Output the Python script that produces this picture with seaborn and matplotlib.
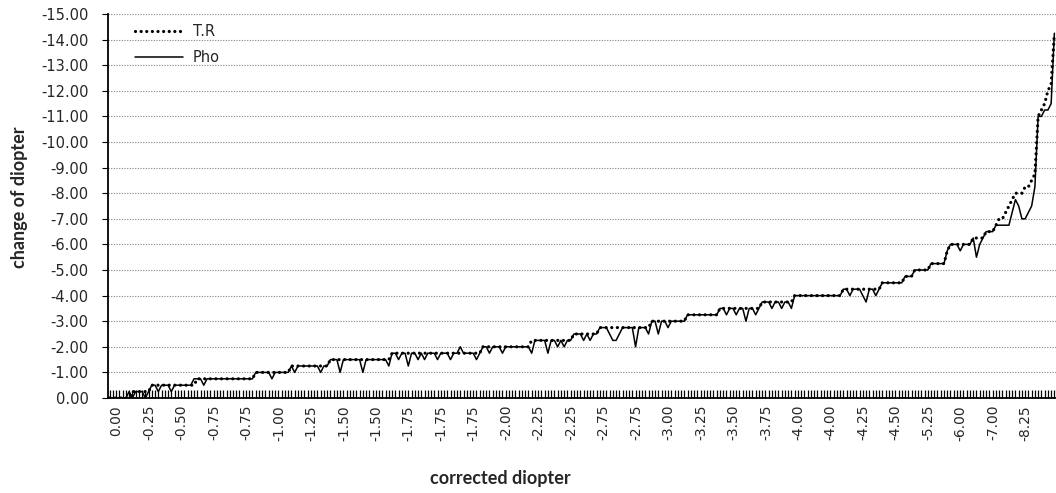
import numpy as np
import pandas as pd
import matplotlib
matplotlib.use("Agg")
import matplotlib.pyplot as plt
import seaborn as sns

# corrected diopter (categories on the x axis, sorted)
corrected = [
    0.00, 0.00, 0.00, 0.00, 0.00, 0.00, 0.00, 0.00, 0.00, -0.25,
    -0.25, -0.25, -0.25, -0.25, -0.25, -0.50, -0.50, -0.50, -0.50, -0.50,
    -0.50, -0.50, -0.50, -0.50, -0.50, -0.50, -0.50, -0.75, -0.75, -0.75,
    -0.75, -0.75, -0.75, -0.75, -0.75, -0.75, -0.75, -0.75, -0.75, -0.75,
    -0.75, -0.75, -0.75, -0.75, -0.75, -1.00, -1.00, -1.00, -1.00, -1.00,
    -1.00, -1.00, -1.00, -1.00, -1.00, -1.00, -1.25, -1.25, -1.25, -1.25,
    -1.25, -1.25, -1.25, -1.25, -1.25, -1.25, -1.25, -1.25, -1.50, -1.50,
    -1.50, -1.50, -1.50, -1.50, -1.50, -1.50, -1.50, -1.50, -1.50, -1.50,
    -1.50, -1.50, -1.50, -1.50, -1.50, -1.50, -1.50, -1.75, -1.75, -1.75,
    -1.75, -1.75, -1.75, -1.75, -1.75, -1.75, -1.75, -1.75, -1.75, -1.75,
    -1.75, -1.75, -1.75, -1.75, -1.75, -1.75, -1.75, -1.75, -1.75, -1.75,
    -1.75, -1.75, -1.75, -1.75, -1.75, -2.00, -2.00, -2.00, -2.00, -2.00,
    -2.00, -2.00, -2.00, -2.00, -2.00, -2.00, -2.00, -2.00, -2.00, -2.00,
    -2.25, -2.25, -2.25, -2.25, -2.25, -2.25, -2.25, -2.25, -2.25, -2.25,
    -2.25, -2.25, -2.25, -2.25, -2.50, -2.50, -2.50, -2.50, -2.50, -2.50,
    -2.75, -2.75, -2.75, -2.75, -2.75, -2.75, -2.75, -2.75, -2.75, -2.75,
    -2.75, -2.75, -2.75, -2.75, -2.75, -2.75, -2.75, -2.75, -3.00, -3.00,
    -3.00, -3.00, -3.00, -3.00, -3.00, -3.00, -3.00, -3.00, -3.00, -3.25,
    -3.25, -3.25, -3.25, -3.25, -3.25, -3.25, -3.25, -3.25, -3.50, -3.50,
    -3.50, -3.50, -3.50, -3.50, -3.50, -3.50, -3.50, -3.50, -3.50, -3.50,
    -3.75, -3.75, -3.75, -3.75, -3.75, -3.75, -3.75, -3.75, -3.75, -4.00,
    -4.00, -4.00, -4.00, -4.00, -4.00, -4.00, -4.00, -4.00, -4.00, -4.00,
    -4.00, -4.00, -4.00, -4.00, -4.00, -4.00, -4.00, -4.25, -4.25, -4.25,
    -4.25, -4.25, -4.25, -4.25, -4.25, -4.25, -4.25, -4.25, -4.50, -4.50,
    -4.50, -4.50, -4.50, -4.50, -4.50, -4.50, -4.75, -4.75, -5.00, -5.00,
    -5.25, -5.25, -5.25, -5.25, -5.25, -5.25, -5.25, -5.50, -5.75, -6.00,
    -6.00, -6.00, -6.00, -6.00, -6.00, -6.00, -6.00, -6.25, -6.25, -6.50,
    -7.00, -7.00, -7.00, -7.25, -7.25, -7.50, -7.50, -7.75, -8.00, -8.00,
    -8.25, -8.25, -8.50, -9.00, -9.50, -10.00, -11.00, -11.50, -12.00, -12.50,
    -13.00, -14.25,
]

# change of diopter, T.R
tr = [
    0.00, 0.00, 0.00, 0.00, 0.00, 0.00, 0.00, -0.25, -0.25, -0.25,
    -0.25, -0.25, -0.25, -0.50, -0.50, -0.50, -0.50, -0.50, -0.50, -0.50,
    -0.50, -0.50, -0.50, -0.50, -0.50, -0.50, -0.50, -0.75, -0.75, -0.75,
    -0.75, -0.75, -0.75, -0.75, -0.75, -0.75, -0.75, -0.75, -0.75, -0.75,
    -0.75, -0.75, -0.75, -0.75, -0.75, -1.00, -1.00, -1.00, -1.00, -1.00,
    -1.00, -1.00, -1.00, -1.00, -1.00, -1.00, -1.25, -1.25, -1.25, -1.25,
    -1.25, -1.25, -1.25, -1.25, -1.25, -1.25, -1.25, -1.25, -1.50, -1.50,
    -1.50, -1.50, -1.50, -1.50, -1.50, -1.50, -1.50, -1.50, -1.50, -1.50,
    -1.50, -1.50, -1.50, -1.50, -1.50, -1.50, -1.50, -1.75, -1.75, -1.75,
    -1.75, -1.75, -1.75, -1.75, -1.75, -1.75, -1.75, -1.75, -1.75, -1.75,
    -1.75, -1.75, -1.75, -1.75, -1.75, -1.75, -1.75, -1.75, -1.75, -1.75,
    -1.75, -1.75, -1.75, -1.75, -1.75, -2.00, -2.00, -2.00, -2.00, -2.00,
    -2.00, -2.00, -2.00, -2.00, -2.00, -2.00, -2.00, -2.00, -2.00, -2.00,
    -2.25, -2.25, -2.25, -2.25, -2.25, -2.25, -2.25, -2.25, -2.25, -2.25,
    -2.25, -2.25, -2.25, -2.50, -2.50, -2.50, -2.50, -2.50, -2.50, -2.50,
    -2.50, -2.75, -2.75, -2.75, -2.75, -2.75, -2.75, -2.75, -2.75, -2.75,
    -2.75, -2.75, -2.75, -2.75, -2.75, -2.75, -2.75, -3.00, -3.00, -3.00,
    -3.00, -3.00, -3.00, -3.00, -3.00, -3.00, -3.00, -3.00, -3.25, -3.25,
    -3.25, -3.25, -3.25, -3.25, -3.25, -3.25, -3.25, -3.25, -3.50, -3.50,
    -3.50, -3.50, -3.50, -3.50, -3.50, -3.50, -3.50, -3.50, -3.50, -3.50,
    -3.50, -3.75, -3.75, -3.75, -3.75, -3.75, -3.75, -3.75, -3.75, -3.75,
    -3.75, -4.00, -4.00, -4.00, -4.00, -4.00, -4.00, -4.00, -4.00, -4.00,
    -4.00, -4.00, -4.00, -4.00, -4.00, -4.00, -4.25, -4.25, -4.25, -4.25,
    -4.25, -4.25, -4.25, -4.25, -4.25, -4.25, -4.25, -4.25, -4.50, -4.50,
    -4.50, -4.50, -4.50, -4.50, -4.50, -4.75, -4.75, -4.75, -5.00, -5.00,
    -5.00, -5.00, -5.00, -5.25, -5.25, -5.25, -5.25, -5.25, -5.75, -6.00,
    -6.00, -6.00, -6.00, -6.00, -6.00, -6.00, -6.25, -6.25, -6.25, -6.25,
    -6.50, -6.50, -6.50, -6.75, -7.00, -7.00, -7.25, -7.50, -7.75, -8.00,
    -8.00, -8.00, -8.25, -8.25, -8.50, -8.75, -11.00, -11.25, -11.50, -12.00,
    -12.25, -14.25,
]

# change of diopter, Pho
pho = [
    0.00, 0.00, 0.00, 0.00, 0.00, 0.00, -0.25, 0.00, -0.25, -0.25,
    -0.25, 0.00, -0.25, -0.50, -0.50, -0.25, -0.50, -0.50, -0.50, -0.25,
    -0.50, -0.50, -0.50, -0.50, -0.50, -0.50, -0.75, -0.75, -0.75, -0.50,
    -0.75, -0.75, -0.75, -0.75, -0.75, -0.75, -0.75, -0.75, -0.75, -0.75,
    -0.75, -0.75, -0.75, -0.75, -0.75, -1.00, -1.00, -1.00, -1.00, -1.00,
    -0.75, -1.00, -1.00, -1.00, -1.00, -1.00, -1.25, -1.00, -1.25, -1.25,
    -1.25, -1.25, -1.25, -1.25, -1.25, -1.00, -1.25, -1.25, -1.50, -1.50,
    -1.50, -1.00, -1.50, -1.50, -1.50, -1.50, -1.50, -1.50, -1.00, -1.50,
    -1.50, -1.50, -1.50, -1.50, -1.50, -1.50, -1.25, -1.75, -1.75, -1.50,
    -1.75, -1.75, -1.25, -1.75, -1.75, -1.50, -1.75, -1.50, -1.75, -1.75,
    -1.75, -1.50, -1.75, -1.75, -1.75, -1.50, -1.75, -1.75, -2.00, -1.75,
    -1.75, -1.75, -1.75, -1.50, -1.75, -2.00, -2.00, -1.75, -2.00, -2.00,
    -2.00, -1.75, -2.00, -2.00, -2.00, -2.00, -2.00, -2.00, -2.00, -2.00,
    -1.75, -2.25, -2.25, -2.25, -2.25, -1.75, -2.25, -2.25, -2.00, -2.25,
    -2.00, -2.25, -2.25, -2.50, -2.50, -2.50, -2.25, -2.50, -2.25, -2.50,
    -2.50, -2.75, -2.75, -2.75, -2.50, -2.25, -2.25, -2.50, -2.75, -2.75,
    -2.75, -2.75, -2.00, -2.75, -2.75, -2.75, -2.50, -3.00, -3.00, -2.50,
    -3.00, -3.00, -2.75, -3.00, -3.00, -3.00, -3.00, -3.00, -3.25, -3.25,
    -3.25, -3.25, -3.25, -3.25, -3.25, -3.25, -3.25, -3.25, -3.50, -3.50,
    -3.25, -3.50, -3.50, -3.25, -3.50, -3.50, -3.00, -3.50, -3.50, -3.25,
    -3.50, -3.75, -3.75, -3.75, -3.50, -3.75, -3.75, -3.50, -3.75, -3.75,
    -3.50, -4.00, -4.00, -4.00, -4.00, -4.00, -4.00, -4.00, -4.00, -4.00,
    -4.00, -4.00, -4.00, -4.00, -4.00, -4.00, -4.25, -4.25, -4.00, -4.25,
    -4.25, -4.25, -4.00, -3.75, -4.25, -4.25, -4.00, -4.25, -4.50, -4.50,
    -4.50, -4.50, -4.50, -4.50, -4.50, -4.75, -4.75, -4.75, -5.00, -5.00,
    -5.00, -5.00, -5.00, -5.25, -5.25, -5.25, -5.25, -5.25, -5.75, -6.00,
    -6.00, -6.00, -5.75, -6.00, -6.00, -6.00, -6.25, -5.50, -6.00, -6.25,
    -6.50, -6.50, -6.50, -6.75, -6.75, -6.75, -6.75, -6.75, -7.25, -7.75,
    -7.50, -7.00, -7.00, -7.25, -7.50, -8.25, -11.00, -11.00, -11.25, -11.25,
    -11.50, -14.25,
]

n = len(corrected)
df = pd.DataFrame({"idx": np.arange(n), "T.R": tr, "Pho": pho})

sns.set_style("white")
plt.rcParams["font.family"] = ["DejaVu Sans"]

fig = plt.figure(figsize=(10.56, 4.93), dpi=100)
ax = fig.add_axes([108 / 1056, 95 / 493, 948 / 1056, 384 / 493])

# gridlines first so the lines sit on top
ax.set_axisbelow(True)
ax.grid(axis="y", linestyle=(0, (1, 1.4)), color="#808080", linewidth=0.8)
ax.grid(axis="x", visible=False)

sns.lineplot(data=df, x="idx", y="T.R", ax=ax, color="black", linewidth=2.3,
             linestyle=(0, (0.01, 1.75)), dash_capstyle="round", label="T.R")
sns.lineplot(data=df, x="idx", y="Pho", ax=ax, color="black", linewidth=1.1,
             label="Pho")

ax.set_xlim(-0.5, n - 0.5)
ax.set_ylim(0, -15)

yt = list(range(0, -16, -1))
ax.set_yticks(yt)
ax.set_yticklabels([f"{v:.2f}" for v in yt], fontsize=10.5)

# one tick per category, label every 10th (labels sit a little right of the tick)
ax.set_xticks(np.arange(n))
ax.set_xticklabels([f"{c:.2f}" if (i % 10 == 0 and i <= 280) else ""
                    for i, c in enumerate(corrected)],
                   rotation=90, fontsize=10, ha="left")

ax.tick_params(axis="x", direction="in", length=6, width=0.9, color="black", pad=5,
               bottom=True)
ax.tick_params(axis="y", direction="out", length=4, width=0.8, color="black", pad=10,
               left=True)

for s in ["top", "right"]:
    ax.spines[s].set_visible(False)
for s in ["left", "bottom"]:
    ax.spines[s].set_color("black")
    ax.spines[s].set_linewidth(1.3)

ax.set_xlabel("corrected diopter", fontsize=13, fontweight="bold",
              family=["Lato", "DejaVu Sans"])
ax.xaxis.set_label_coords((500 - 108) / 948, -0.1875)
ax.set_ylabel("change of diopter", fontsize=13, fontweight="bold",
              family=["Lato", "DejaVu Sans"])
ax.yaxis.set_label_coords(-0.084, (398 - 197) / 384)

ax.legend(loc="upper left", bbox_to_anchor=(0.022, 0.99), frameon=False,
          fontsize=10.5, handlelength=3.3, handletextpad=0.7,
          labelspacing=0.75, borderaxespad=0)

fig.savefig("out.png", dpi=100)
